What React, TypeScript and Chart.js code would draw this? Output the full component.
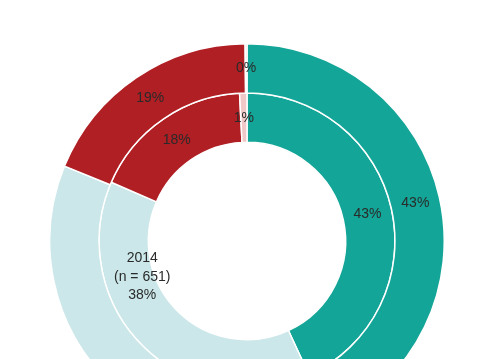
import React, { useEffect, useRef } from "react";
import { Chart, registerables } from "chart.js";

Chart.register(...registerables);

const categories = ["Teal", "Light blue", "Red", "Pink"];
const outerValues = [42.9, 38.3, 18.65, 0.15];
const innerValues = [43.1, 38.4, 17.7, 0.8];
const ringTitle = "2014";
const ringCount = "(n = 651)";
const colors = ["#13a597", "#cbe7e9", "#b01f24", "#f0c8c8"];

const labelPlugin = {
  id: "ringLabels",
  afterDatasetsDraw(chart: any) {
    const ctx = chart.ctx;
    ctx.save();
    ctx.fillStyle = "#2a2a2a";
    ctx.font = "14px 'Liberation Sans', Arial, sans-serif";
    ctx.textAlign = "center";
    ctx.textBaseline = "middle";
    chart.data.datasets.forEach((ds: any, di: number) => {
      const meta = chart.getDatasetMeta(di);
      meta.data.forEach((arc: any, i: number) => {
        const p = arc.getProps(["x", "y", "startAngle", "endAngle", "innerRadius", "outerRadius"], true);
        const special = di === 1 && i === 1;
        const fa = special ? 0.692 : 0.5;
        const fr = special ? 0.25 : 0.5;
        const a = p.startAngle + fa * (p.endAngle - p.startAngle);
        const r = p.innerRadius + fr * (p.outerRadius - p.innerRadius);
        const x = p.x + Math.cos(a) * r;
        const y = p.y + Math.sin(a) * r;
        const txt = Math.round(ds.data[i]) + "%";
        if (special) {
          ctx.fillText(ringTitle, x, y - 19.5);
          ctx.fillText(ringCount, x, y);
          ctx.fillText(txt, x, y + 17.5);
        } else {
          ctx.fillText(txt, x, y);
        }
      });
    });
    ctx.restore();
  },
};

export default function App() {
  const ref = useRef<HTMLCanvasElement>(null);
  useEffect(() => {
    const chart = new Chart(ref.current!, {
      type: "doughnut",
      data: {
        labels: categories,
        datasets: [
          { data: outerValues, backgroundColor: colors, borderColor: "#ffffff", borderWidth: 1.5 },
          { data: innerValues, backgroundColor: colors, borderColor: "#ffffff", borderWidth: 1.5 },
        ],
      },
      options: {
        responsive: false,
        animation: false,
        cutout: "50%",
        layout: { padding: 0 },
        plugins: { legend: { display: false }, tooltip: { enabled: false } },
        elements: { arc: { offset: 0, hoverOffset: 0 } as any },
      },
      plugins: [labelPlugin],
    });
    return () => chart.destroy();
  }, []);
  return (
    <div style={{ position: "fixed", left: 0, top: 0, width: 479, height: 359, overflow: "hidden", background: "#fff" }}>
      <canvas ref={ref} width={396} height={396} style={{ position: "absolute", left: 49, top: 43 }} />
    </div>
  );
}
